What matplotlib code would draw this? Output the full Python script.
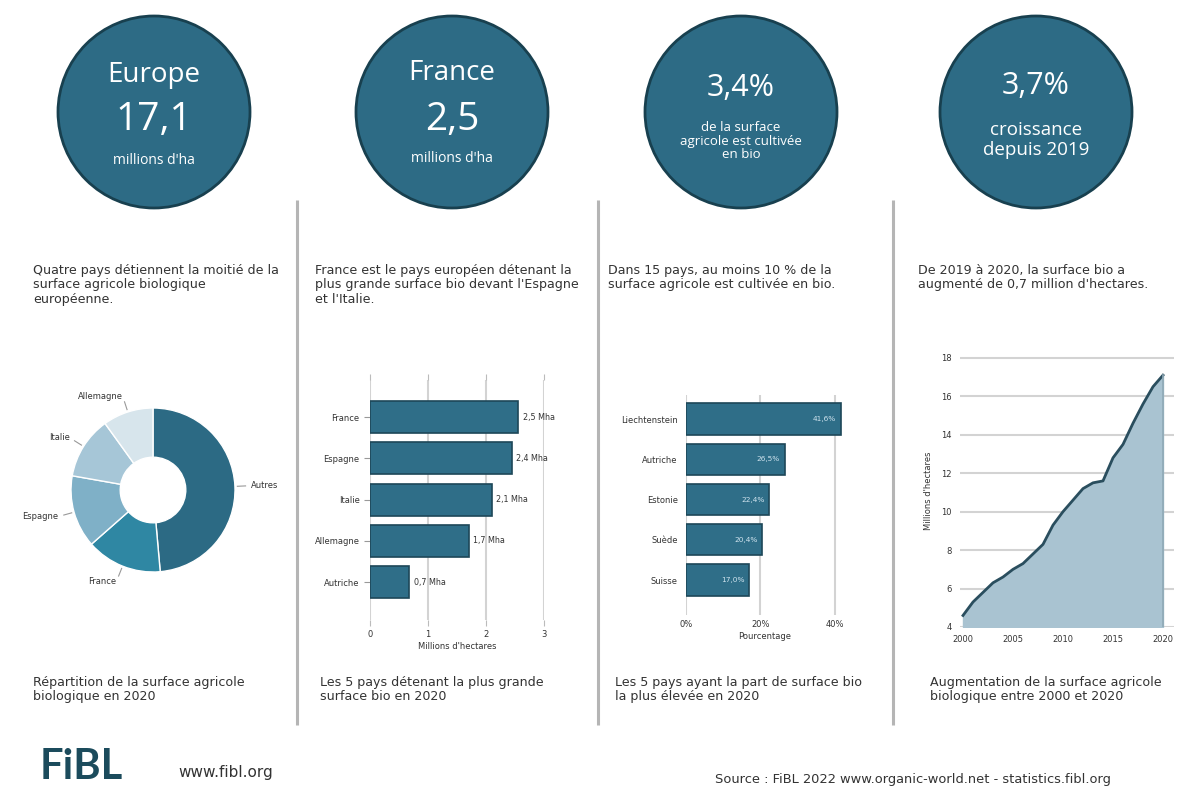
import matplotlib.pyplot as plt
from matplotlib.patches import Circle
import numpy as np

W, H = 1178, 799

# --- data ---
donut_labels = ['Autres', 'France', 'Espagne', 'Italie', 'Allemagne']
donut_values = [8.31, 2.55, 2.44, 2.10, 1.70]
donut_colors = ['#2c6a84', '#2f87a3', '#7fb0c7', '#a6c6d7', '#d7e5ec']

top_area_countries = ['France', 'Espagne', 'Italie', 'Allemagne', 'Autriche']
top_area_values = [2.55, 2.44, 2.10, 1.70, 0.68]
top_area_labels = ['2,5 Mha', '2,4 Mha', '2,1 Mha', '1,7 Mha', '0,7 Mha']

top_share_countries = ['Liechtenstein', 'Autriche', 'Estonie', 'Suède', 'Suisse']
top_share_values = [41.6, 26.5, 22.4, 20.4, 17.0]
top_share_labels = ['41,6%', '26,5%', '22,4%', '20,4%', '17,0%']

years = list(range(2000, 2021))
europe_area = [4.6, 5.3, 5.8, 6.3, 6.6, 7.0, 7.3, 7.8, 8.3, 9.3, 10.0,
               10.6, 11.2, 11.5, 11.6, 12.8, 13.5, 14.6, 15.6, 16.5, 17.1]

plt.rcParams['font.family'] = ['DejaVu Sans']
HEAD = ['Open Sans', 'DejaVu Sans']
TXT = '#333333'
CIRCLE = '#2d6b85'
BAR = '#2f6e88'
BAR_EDGE = '#1d4758'
GRID = '#d3d3d3'


def box(x0, y0, x1, y1):
    # pixel box -> figure fraction [left, bottom, width, height]
    return [x0 / W, 1 - y1 / H, (x1 - x0) / W, (y1 - y0) / H]


fig = plt.figure(figsize=(W / 100, H / 100), dpi=100)
fig.patch.set_facecolor('white')

bg = fig.add_axes([0, 0, 1, 1])
bg.set_xlim(0, W)
bg.set_ylim(H, 0)
bg.axis('off')

# separators
for x in [297, 598, 893]:
    bg.plot([x, x], [200, 725], color='#b5b5b5', lw=2.2, solid_capstyle='butt')

# circles
for cx in [154, 452, 741, 1036]:
    bg.add_patch(Circle((cx, 112), 96, facecolor=CIRCLE, edgecolor='#18404f', lw=2))

bg.text(154, 75, 'Europe', color='white', fontsize=20, ha='center', va='center', family=HEAD)
bg.text(154, 120, '17,1', color='white', fontsize=28, ha='center', va='center', family=HEAD)
bg.text(154, 160, "millions d'ha", color='white', fontsize=10, ha='center', va='center', family=HEAD)
bg.text(452, 73, 'France', color='white', fontsize=20, ha='center', va='center', family=HEAD)
bg.text(452, 120, '2,5', color='white', fontsize=28, ha='center', va='center', family=HEAD)
bg.text(452, 158, "millions d'ha", color='white', fontsize=10, ha='center', va='center', family=HEAD)
bg.text(741, 88, '3,4%', color='white', fontsize=22, ha='center', va='center', family=HEAD)
bg.text(741, 141, 'de la surface\nagricole est cultivée\nen bio', color='white', fontsize=9.5,
        ha='center', va='center', linespacing=1.05, family=HEAD)
bg.text(1036, 86, '3,7%', color='white', fontsize=22, ha='center', va='center', family=HEAD)
bg.text(1036, 140, 'croissance\ndepuis 2019', color='white', fontsize=13.5,
        ha='center', va='center', linespacing=1.1, family=HEAD)

# descriptive texts
top_texts = [
    (33, "Quatre pays détiennent la moitié de la\nsurface agricole biologique\neuropéenne."),
    (315, "France est le pays européen détenant la\nplus grande surface bio devant l'Espagne\net l'Italie."),
    (608, "Dans 15 pays, au moins 10 % de la\nsurface agricole est cultivée en bio."),
    (918, "De 2019 à 2020, la surface bio a\naugmenté de 0,7 million d'hectares."),
]
for x, t in top_texts:
    bg.text(x, 264, t, color=TXT, fontsize=9.1, ha='left', va='top', linespacing=1.13)

bottom_texts = [
    (33, "Répartition de la surface agricole\nbiologique en 2020"),
    (320, "Les 5 pays détenant la plus grande\nsurface bio en 2020"),
    (615, "Les 5 pays ayant la part de surface bio\nla plus élevée en 2020"),
    (930, "Augmentation de la surface agricole\nbiologique entre 2000 et 2020"),
]
for x, t in bottom_texts:
    bg.text(x, 676, t, color=TXT, fontsize=9.1, ha='left', va='top', linespacing=1.13)

# footer
bg.text(40, 767, 'FiBL', color='#1b4b5c', fontsize=30, fontweight='bold',
        family=['Lato', 'DejaVu Sans'], ha='left', va='center')
bg.text(178, 773, 'www.fibl.org', color=TXT, fontsize=11, ha='left', va='center')
bg.text(715, 779, 'Source : FiBL 2022 www.organic-world.net - statistics.fibl.org',
        color=TXT, fontsize=9.4, ha='left', va='center')

# --- donut ---
ax1 = fig.add_axes(box(71, 408, 235, 572))
wedges, texts = ax1.pie(donut_values, labels=donut_labels, colors=donut_colors,
                        startangle=90, counterclock=False, labeldistance=1.2,
                        wedgeprops=dict(width=0.6, edgecolor='white', linewidth=1),
                        textprops=dict(fontsize=6, color=TXT))
for w in wedges:
    ang = np.deg2rad((w.theta1 + w.theta2) / 2)
    ax1.plot([1.03 * np.cos(ang), 1.13 * np.cos(ang)],
             [1.03 * np.sin(ang), 1.13 * np.sin(ang)], color='#999999', lw=0.8, clip_on=False)
ax1.set_xlim(-1, 1)
ax1.set_ylim(-1, 1)

# --- top 5 area ---
ax2 = fig.add_axes(box(370, 380, 544, 620))
pos = np.arange(len(top_area_countries))
ax2.barh(pos, top_area_values, height=0.78, color=BAR, edgecolor=BAR_EDGE, lw=1.2, zorder=3)
for p, v, lab in zip(pos, top_area_values, top_area_labels):
    ax2.text(v + 0.08, p, lab, fontsize=5.8, color=TXT, va='center', ha='left', zorder=4)
ax2.set_yticks(pos)
ax2.set_yticklabels(top_area_countries)
ax2.set_ylim(4.92, -0.9)
ax2.set_xlim(0, 3)
ax2.set_xticks([0, 1, 2, 3])
ax2.set_xticklabels(['0', '1', '2', '3'])
ax2.tick_params(axis='x', top=True, labeltop=False, length=4, color='#bbbbbb',
                labelsize=6, labelcolor=TXT)
ax2.tick_params(axis='y', length=4, color='#999999', labelsize=6, labelcolor=TXT)
ax2.grid(axis='x', color=GRID, lw=1.5, zorder=0)
for s in ax2.spines.values():
    s.set_visible(False)
ax2.set_xlabel("Millions d'hectares", fontsize=6, color=TXT, labelpad=2)

# --- top 5 share ---
ax3 = fig.add_axes(box(686, 395, 843, 615))
pos = np.arange(len(top_share_countries))
ax3.barh(pos, top_share_values, height=0.78, color=BAR, edgecolor=BAR_EDGE, lw=1.2, zorder=3)
for p, v, lab in zip(pos, top_share_values, top_share_labels):
    ax3.text(v - 1.2, p, lab, fontsize=5.3, color='#cfe3ee', va='center', ha='right', zorder=4)
ax3.set_yticks(pos)
ax3.set_yticklabels(top_share_countries)
ax3.set_ylim(4.87, -0.6)
ax3.set_xlim(0, 42.2)
ax3.set_xticks([0, 20, 40])
ax3.set_xticklabels(['0%', '20%', '40%'])
ax3.tick_params(axis='x', length=0, labelsize=6, labelcolor=TXT)
ax3.tick_params(axis='y', length=0, labelsize=6, labelcolor=TXT, pad=6)
ax3.grid(axis='x', color=GRID, lw=1.5, zorder=0)
for s in ax3.spines.values():
    s.set_visible(False)
ax3.set_xlabel('Pourcentage', fontsize=6, color=TXT, labelpad=2)

# --- growth area ---
ax4 = fig.add_axes(box(960, 355, 1174, 627))
ax4.fill_between(years, europe_area, 4, color='#a9c3d1', zorder=2)
ax4.plot(years, europe_area, color='#2a4e5e', lw=2, zorder=3)
ax4.plot([years[-1], years[-1]], [4, europe_area[-1]], color='#8fa9b6', lw=1.2, zorder=3)
ax4.set_xlim(1999.7, 2021.1)
ax4.set_ylim(4, 18.15)
ax4.set_yticks(range(4, 19, 2))
ax4.set_xticks([2000, 2005, 2010, 2015, 2020])
ax4.tick_params(length=0, labelsize=6, labelcolor=TXT, pad=6)
ax4.grid(axis='y', color=GRID, lw=1.5, zorder=1)
for s in ax4.spines.values():
    s.set_visible(False)
ax4.set_ylabel("Millions d'hectares", fontsize=6, color=TXT, labelpad=6)

fig.savefig('out.png', dpi=100, facecolor='white')
